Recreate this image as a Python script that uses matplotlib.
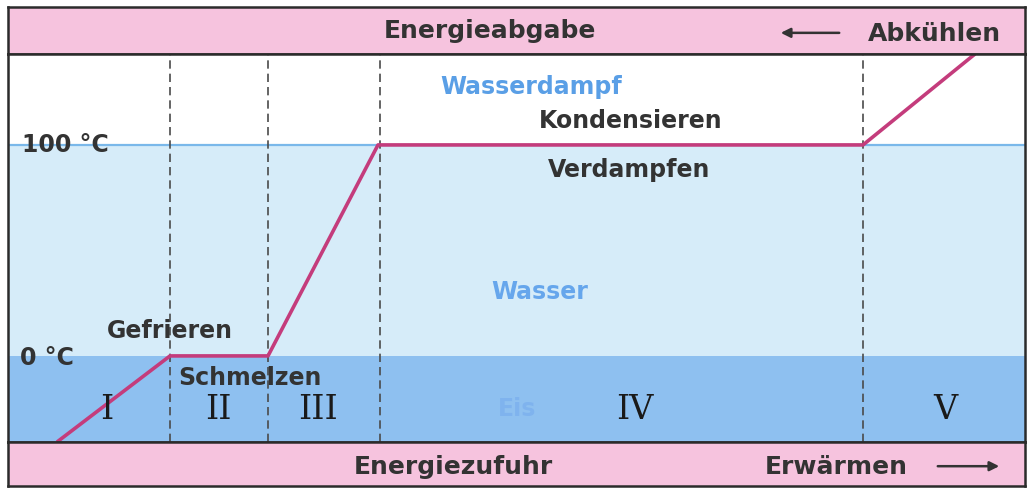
import matplotlib.pyplot as plt

# Heating curve of water: energy (arbitrary units) vs temperature (°C)
energy = [57, 170, 268, 378, 863, 975]
temperature = [-40.8, 0, 0, 100, 100, 143.1]
phase_bounds = [170, 268, 380, 863]
phase_names = ["I", "II", "III", "IV", "V"]
phase_centers = [107, 218, 318, 635, 945]

X_MIN, X_MAX = 8, 1025
T_MIN, T_MAX = -40.8, 143.1

PINK = "#f6c3de"
ICE = "#8ec0f0"
WATER = "#d6ecf9"
LINE = "#c43c7c"
TEXT = "#333333"
BORDER = "#2b2b2b"
FONT = "DejaVu Sans"

fig = plt.figure(figsize=(10.27, 4.89), dpi=100)
W, H = 1027, 489


def px_axes(x0, y0, x1, y1):
    return fig.add_axes([x0 / W, 1 - y1 / H, (x1 - x0) / W, (y1 - y0) / H])


ax_top = px_axes(X_MIN, 8, X_MAX, 55)
ax = px_axes(X_MIN, 55, X_MAX, 443)
ax_bot = px_axes(X_MIN, 443, X_MAX, 487)

# main panel
ax.set_xlim(X_MIN, X_MAX)
ax.set_ylim(T_MIN, T_MAX)
ax.axhspan(T_MIN, 0, color=ICE, lw=0)
ax.axhspan(0, 100, color=WATER, lw=0)
ax.axhspan(100, T_MAX, color="white", lw=0)
ax.axhline(100, color="#7ab8ea", lw=1.6)
for b in phase_bounds:
    ax.axvline(b, color="#4a4a4a", lw=1.2, ls=(0, (5, 3)))
ax.plot(energy, temperature, color=LINE, lw=2.6, solid_capstyle="butt")

for name, xc in zip(phase_names, phase_centers):
    ax.text(xc, -25, name, ha="center", va="center", fontsize=24,
            family="DejaVu Serif", color="#1a1a1a")

ax.text(22, 100.5, "100 °C", ha="left", va="center", fontsize=17,
        family=FONT, fontweight="bold", color=TEXT)
ax.text(20, -0.5, "0 °C", ha="left", va="center", fontsize=17,
        family=FONT, fontweight="bold", color=TEXT)

labels = [
    ("Wasserdampf", 531, 128, "#5a9fe6"),
    ("Kondensieren", 631, 112, TEXT),
    ("Verdampfen", 629, 88.6, TEXT),
    ("Wasser", 540, 30.8, "#66a6ec"),
    ("Gefrieren", 170, 12.3, TEXT),
    ("Schmelzen", 250, -9.8, TEXT),
    ("Eis", 517, -24.5, "#7fb3ee"),
]
for txt, x, y, c in labels:
    ax.text(x, y, txt, ha="center", va="center", fontsize=17,
            family=FONT, fontweight="bold", color=c)

# bands
for a in (ax_top, ax_bot):
    a.set_facecolor(PINK)
    a.set_xlim(X_MIN, X_MAX)
    a.set_ylim(1, 0)

ax_top.text(490, 0.5, "Energieabgabe", ha="center", va="center", fontsize=18,
            family=FONT, fontweight="bold", color=TEXT)
ax_top.text(934, 0.55, "Abkühlen", ha="center", va="center", fontsize=18,
            family=FONT, fontweight="bold", color=TEXT)
ax_top.annotate("", xy=(778, 0.55), xytext=(842, 0.55),
                arrowprops=dict(arrowstyle="-|>", color=TEXT, lw=1.8,
                                mutation_scale=14))

ax_bot.text(453, 0.55, "Energiezufuhr", ha="center", va="center", fontsize=18,
            family=FONT, fontweight="bold", color=TEXT)
ax_bot.text(836, 0.55, "Erwärmen", ha="center", va="center", fontsize=18,
            family=FONT, fontweight="bold", color=TEXT)
ax_bot.annotate("", xy=(1002, 0.55), xytext=(935, 0.55),
                arrowprops=dict(arrowstyle="-|>", color=TEXT, lw=1.8,
                                mutation_scale=14))

for a in (ax_top, ax, ax_bot):
    a.set_xticks([])
    a.set_yticks([])
    for s in a.spines.values():
        s.set_color(BORDER)
        s.set_linewidth(1.8)

fig.savefig("out.png", dpi=100)
